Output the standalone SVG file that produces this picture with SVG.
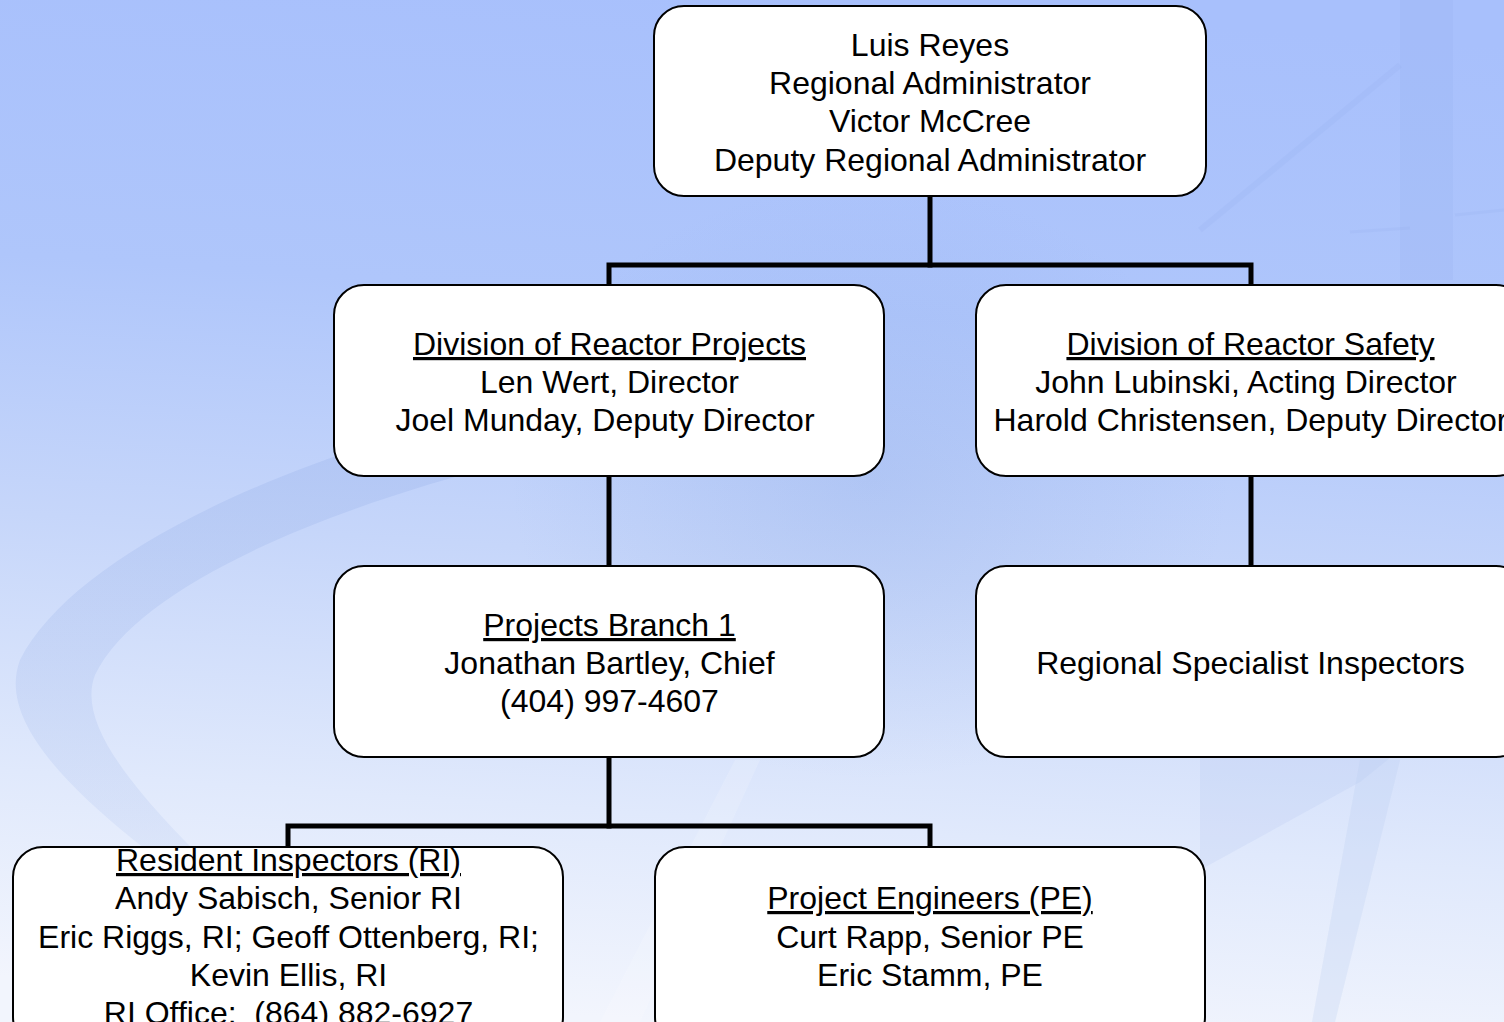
<svg xmlns="http://www.w3.org/2000/svg" width="1504" height="1022" viewBox="0 0 1504 1022">
  <style>
    .box { fill: #ffffff; stroke: #000000; stroke-width: 2; }
    .conn { fill: none; stroke: #000000; stroke-width: 5; stroke-linecap: square; stroke-linejoin: miter; }
    .t { font-family: "Liberation Sans", Arial, sans-serif; font-size: 32px; fill: #000000; text-anchor: middle; }
    .u { text-decoration: underline; text-decoration-skip-ink: none; }
  </style>
  <defs>
    <linearGradient id="bg" x1="0.55" y1="0" x2="0.45" y2="1">
      <stop offset="0" stop-color="#a8c0fc"/>
      <stop offset="0.3" stop-color="#afc6fb"/>
      <stop offset="0.55" stop-color="#c6d6fa"/>
      <stop offset="0.8" stop-color="#e0e9fc"/>
      <stop offset="1" stop-color="#f2f5fd"/>
    </linearGradient>
    <radialGradient id="blob" cx="0.5" cy="0.5" r="0.5">
      <stop offset="0" stop-color="#7f9fe0" stop-opacity="0.22"/>
      <stop offset="1" stop-color="#7f9fe0" stop-opacity="0"/>
    </radialGradient>
    <linearGradient id="swoosh" x1="0" y1="0" x2="0" y2="1">
      <stop offset="0" stop-color="#8aa6e4" stop-opacity="0.25"/>
      <stop offset="0.7" stop-color="#8aa6e4" stop-opacity="0.14"/>
      <stop offset="1" stop-color="#8aa6e4" stop-opacity="0.04"/>
    </linearGradient>
  </defs>

  <g id="background">
    <rect x="0" y="0" width="1504" height="1022" fill="url(#bg)"/>
    <ellipse cx="870" cy="480" rx="360" ry="300" fill="url(#blob)"/>
    <path d="M720 380 C450 390 90 520 20 660 C-10 740 120 840 330 980 C180 840 70 740 95 675 C150 560 450 460 720 420 Z" fill="url(#swoosh)"/>
    <path d="M1200 870 L1360 782 L1400 750 L1200 750 Z" fill="#9fb6e8" opacity="0.15"/>
    <path d="M1360 760 L1400 760 L1335 1022 L1312 1022 Z" fill="#b8cbee" opacity="0.25"/>
    <path d="M600 1022 L640 1022 L760 760 L735 760 Z" fill="#ffffff" opacity="0.15"/>
    <rect x="1400" y="0" width="53" height="280" fill="#8fa9ea" opacity="0.15"/>
    <path d="M1200 230 L1400 65" stroke="#8fa9ea" stroke-width="6" opacity="0.15"/>
    <path d="M1350 232 L1410 228 M1455 215 L1504 210" stroke="#8fa9ea" stroke-width="3" opacity="0.15"/>
  </g>

  <g id="connectors">
    <path class="conn" d="M930 196 V265"/>
    <path class="conn" d="M609 285 V265 H1251 V285"/>
    <path class="conn" d="M609 476 V566"/>
    <path class="conn" d="M1251 476 V566"/>
    <path class="conn" d="M609 757 V826"/>
    <path class="conn" d="M288 847 V826 H930 V847"/>
  </g>

  <g id="node-regional-admin">
    <rect class="box" x="654" y="6" width="552" height="190" rx="30"/>
    <text class="t" x="930" y="56">Luis Reyes</text>
    <text class="t" x="930" y="94">Regional Administrator</text>
    <text class="t" x="930" y="132">Victor McCree</text>
    <text class="t" x="930" y="171">Deputy Regional Administrator</text>
  </g>

  <g id="node-drp">
    <rect class="box" x="334" y="285" width="550" height="191" rx="30"/>
    <text class="t u" x="609.5" y="355">Division of Reactor Projects</text>
    <text class="t" x="609.5" y="393">Len Wert, Director</text>
    <text class="t" x="605" y="431">Joel Munday, Deputy Director</text>
  </g>

  <g id="node-drs">
    <rect class="box" x="976" y="285" width="550" height="191" rx="30"/>
    <text class="t u" x="1250.5" y="355">Division of Reactor Safety</text>
    <text class="t" x="1246" y="393">John Lubinski, Acting Director</text>
    <text class="t" x="1250.5" y="431">Harold Christensen, Deputy Director</text>
  </g>

  <g id="node-branch1">
    <rect class="box" x="334" y="566" width="550" height="191" rx="30"/>
    <text class="t u" x="609.5" y="636">Projects Branch 1</text>
    <text class="t" x="609.5" y="674">Jonathan Bartley, Chief</text>
    <text class="t" x="609.5" y="712">(404) 997-4607</text>
  </g>

  <g id="node-specialists">
    <rect class="box" x="976" y="566" width="550" height="191" rx="30"/>
    <text class="t" x="1250.5" y="674">Regional Specialist Inspectors</text>
  </g>

  <g id="node-resident">
    <rect class="box" x="13" y="847" width="550" height="200" rx="30"/>
    <text class="t u" x="288.5" y="871">Resident Inspectors (RI)</text>
    <text class="t" x="288.5" y="909">Andy Sabisch, Senior RI</text>
    <text class="t" x="288.5" y="948">Eric Riggs, RI; Geoff Ottenberg, RI;</text>
    <text class="t" x="288.5" y="986">Kevin Ellis, RI</text>
    <text class="t" x="288.5" y="1024" xml:space="preserve">RI Office:  (864) 882-6927</text>
  </g>

  <g id="node-pe">
    <rect class="box" x="655" y="847" width="550" height="200" rx="30"/>
    <text class="t u" x="930" y="909">Project Engineers (PE)</text>
    <text class="t" x="930" y="948">Curt Rapp, Senior PE</text>
    <text class="t" x="930" y="986">Eric Stamm, PE</text>
  </g>
</svg>
